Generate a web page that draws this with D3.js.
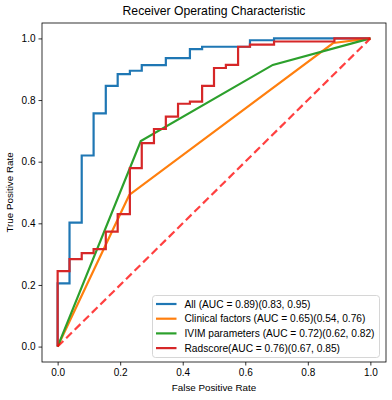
<!DOCTYPE html>
<html>
<head>
<meta charset="utf-8">
<script src="https://cdn.jsdelivr.net/npm/d3@7"></script>
<style>
  html, body { margin: 0; padding: 0; background: #fff; }
  svg { display: block; font-family: "Liberation Sans", Arial, sans-serif; }
</style>
</head>
<body>
<svg id="chart" width="392" height="400"></svg>
<script>
// ROC curves — corner points.
const allFpr = [0, 0, 0.038, 0.077, 0.115, 0.154, 0.192, 0.231, 0.269, 0.346, 0.423, 0.462, 0.615, 0.692, 1];
const allTpr = [0, 0.205, 0.402, 0.62, 0.757, 0.846, 0.884, 0.895, 0.913, 0.936, 0.965, 0.973, 0.994, 1, 1];

const clinFpr = [0, 0.229, 0.881, 1];
const clinTpr = [0, 0.492, 0.985, 1];

const ivimFpr = [0, 0.266, 0.688, 1];
const ivimTpr = [0, 0.667, 0.914, 1];

const radFpr = [0, 0, 0.038, 0.077, 0.115, 0.154, 0.192, 0.231, 0.269, 0.308, 0.346, 0.385, 0.423, 0.462, 0.5, 0.538, 0.577, 0.615, 0.692, 0.885, 1];
const radTpr = [0, 0.245, 0.284, 0.303, 0.316, 0.373, 0.43, 0.579, 0.66, 0.706, 0.746, 0.788, 0.795, 0.846, 0.904, 0.914, 0.973, 0.98, 0.99, 1, 1];

const seriesNames = [
  'All (AUC = 0.89)(0.83, 0.95)',
  'Clinical factors (AUC = 0.65)(0.54, 0.76)',
  'IVIM parameters (AUC = 0.72)(0.62, 0.82)',
  'Radscore(AUC = 0.76)(0.67, 0.85)',
];
const seriesColors = ['#1f77b4', '#ff7f0e', '#2ca02c', '#d62728'];
const ticks = [0, 0.2, 0.4, 0.6, 0.8, 1.0];

const svg = d3.select('#chart');
const L = 42, R = 386, T = 23, B = 362;

const x = d3.scaleLinear().domain([-0.05, 1.05]).range([L, R]);
const y = d3.scaleLinear().domain([-0.05, 1.05]).range([B, T]);

const zip = (a, b) => a.map((v, i) => [v, b[i]]);
const series = [
  { pts: zip(allFpr, allTpr),   curve: d3.curveStepAfter },
  { pts: zip(clinFpr, clinTpr), curve: d3.curveLinear },
  { pts: zip(ivimFpr, ivimTpr), curve: d3.curveLinear },
  { pts: zip(radFpr, radTpr),   curve: d3.curveStepAfter },
];

// title
svg.append('text')
  .attr('x', (L + R) / 2).attr('y', 15)
  .attr('text-anchor', 'middle')
  .attr('font-size', 12.2).attr('fill', '#000')
  .text('Receiver Operating Characteristic');

// axes
const xAxis = d3.axisBottom(x).tickValues(ticks).tickFormat(d3.format('.1f')).tickSize(3.5).tickPadding(3);
const yAxis = d3.axisLeft(y).tickValues(ticks).tickFormat(d3.format('.1f')).tickSize(3.5).tickPadding(3);

const gx = svg.append('g').attr('transform', `translate(0,${B})`).call(xAxis);
const gy = svg.append('g').attr('transform', `translate(${L},0)`).call(yAxis);
[gx, gy].forEach(g => {
  g.select('.domain').remove();
  g.selectAll('.tick line').attr('stroke', '#000').attr('stroke-width', 0.8);
  g.selectAll('.tick text').attr('font-size', 10).attr('fill', '#000')
    .attr('font-family', '"Liberation Sans", Arial, sans-serif');
});

svg.append('text')
  .attr('x', (L + R) / 2).attr('y', 391)
  .attr('text-anchor', 'middle').attr('font-size', 9.8)
  .text('False Positive Rate');
svg.append('text')
  .attr('transform', `translate(13,${(T + B) / 2}) rotate(-90)`)
  .attr('text-anchor', 'middle').attr('font-size', 9.8)
  .text('True Positive Rate');

// curves
const plot = svg.append('g');
series.forEach((s, i) => {
  plot.append('path')
    .datum(s.pts)
    .attr('fill', 'none')
    .attr('stroke', seriesColors[i])
    .attr('stroke-width', 2.2)
    .attr('stroke-linejoin', 'miter')
    .attr('d', d3.line().x(d => x(d[0])).y(d => y(d[1])).curve(s.curve));
});

// chance line
plot.append('path')
  .datum([[0, 0], [1, 1]])
  .attr('fill', 'none')
  .attr('stroke', '#ff0000')
  .attr('stroke-opacity', 0.75)
  .attr('stroke-width', 2.2)
  .attr('stroke-dasharray', '8,4')
  .attr('d', d3.line().x(d => x(d[0])).y(d => y(d[1])));

// frame
svg.append('rect')
  .attr('x', L).attr('y', T).attr('width', R - L).attr('height', B - T)
  .attr('fill', 'none').attr('stroke', '#000').attr('stroke-width', 0.8);

// legend
const lg = svg.append('g');
lg.append('rect')
  .attr('x', 152.5).attr('y', 295.5).attr('width', 227).attr('height', 62)
  .attr('rx', 3).attr('fill', '#fff').attr('fill-opacity', 0.8)
  .attr('stroke', '#ccc').attr('stroke-width', 0.8);
seriesNames.forEach((name, i) => {
  const ry = 304 + i * 14.7;
  lg.append('line')
    .attr('x1', 156).attr('x2', 176.5).attr('y1', ry).attr('y2', ry)
    .attr('stroke', seriesColors[i]).attr('stroke-width', 2.2);
  lg.append('text')
    .attr('x', 184.5).attr('y', ry).attr('dy', '0.35em')
    .attr('font-size', 10.2).attr('fill', '#000')
    .text(name);
});
</script>
</body>
</html>
